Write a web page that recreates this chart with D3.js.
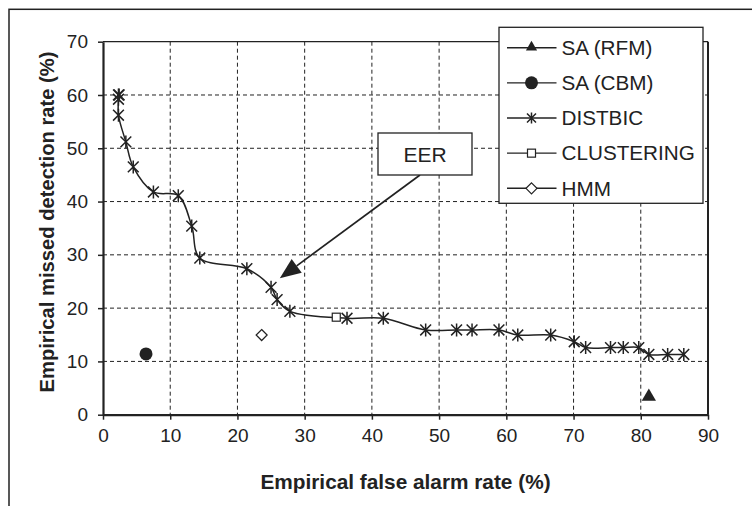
<!DOCTYPE html>
<html lang="en">

<head>
    <meta charset="UTF-8">
    <script src="https://d3js.org/d3.v7.min.js" charset="utf-8"></script>
    <title>DET curve</title>
    <style>
        body { margin: 0; background: #fff; }
        text { font-family: "Liberation Sans", Arial, sans-serif; fill: #222; }
    </style>
</head>

<body>
    <div id="chart"></div>

    <script>
        // DISTBIC curve (false alarm %, missed detection %)
        const distbicFalseAlarm = [2.4, 2.3, 2.3, 2.3, 3.4, 4.5, 7.5, 11.2, 13.2, 14.4, 21.4, 25.0, 25.9, 27.8, 36.3, 41.7, 48.0, 52.6, 54.9, 58.9, 61.7, 66.6, 70.1, 71.8, 75.5, 77.4, 79.7, 81.2, 84.0, 86.4];
        const distbicMissed = [60.0, 60.0, 59.2, 56.2, 51.2, 46.5, 41.8, 41.1, 35.4, 29.4, 27.4, 23.9, 21.6, 19.4, 18.1, 18.1, 15.9, 15.9, 15.9, 15.9, 14.95, 14.95, 13.7, 12.6, 12.6, 12.6, 12.6, 11.3, 11.3, 11.3];
        // single-point systems
        const saRfm = [81.2, 3.3];
        const saCbm = [6.4, 11.4];
        const clustering = [34.7, 18.3];
        const hmm = [23.6, 14.95];
        const legendNames = ["SA (RFM)", "SA (CBM)", "DISTBIC", "CLUSTERING", "HMM"];
        const xTicks = [0, 10, 20, 30, 40, 50, 60, 70, 80, 90];
        const yTicks = [0, 10, 20, 30, 40, 50, 60, 70];
        const eerTip = [26.3, 25.6];

        const width = 752, height = 506;
        const ink = "#222";
        const plotLeft = 103, plotRight = 708, plotTop = 41.7, plotBottom = 414.7;

        const x = d3.scaleLinear().domain([0, 90]).range([plotLeft, plotRight]);
        const y = d3.scaleLinear().domain([0, 70]).range([plotBottom, plotTop]);

        const svg = d3.select("#chart").append("svg")
            .attr("width", width)
            .attr("height", height);

        // outer frame (cut by the picture edges)
        svg.append("rect")
            .attr("x", 9).attr("y", 9.3)
            .attr("width", 780).attr("height", 540)
            .attr("fill", "none").attr("stroke", ink).attr("stroke-width", 1.5);

        // grid
        const grid = svg.append("g").attr("stroke", ink).attr("stroke-width", 1).attr("stroke-dasharray", "4,3");
        grid.selectAll("line.v").data(xTicks.filter(d => d > 0 && d < 90)).enter().append("line")
            .attr("x1", d => x(d)).attr("x2", d => x(d))
            .attr("y1", plotTop).attr("y2", plotBottom);
        grid.selectAll("line.h").data(yTicks.filter(d => d > 0 && d < 70)).enter().append("line")
            .attr("y1", d => y(d)).attr("y2", d => y(d))
            .attr("x1", plotLeft).attr("x2", plotRight);

        // plot border
        svg.append("line").attr("x1", plotLeft).attr("x2", plotRight).attr("y1", plotTop).attr("y2", plotTop)
            .attr("stroke", ink).attr("stroke-width", 1.3);
        svg.append("line").attr("x1", plotRight).attr("x2", plotRight).attr("y1", plotTop).attr("y2", plotBottom)
            .attr("stroke", ink).attr("stroke-width", 2);

        // axes
        const xAxis = svg.append("g").attr("transform", "translate(0," + plotBottom + ")")
            .call(d3.axisBottom(x).tickValues(xTicks).tickSize(5).tickSizeOuter(0));
        const yAxis = svg.append("g").attr("transform", "translate(" + plotLeft + ",0)")
            .call(d3.axisLeft(y).tickValues(yTicks).tickSize(5).tickSizeOuter(0));
        [xAxis, yAxis].forEach(a => {
            a.select(".domain").attr("stroke", ink).attr("stroke-width", 2.2);
            a.selectAll(".tick line").attr("stroke", ink).attr("stroke-width", 1.5);
            a.selectAll(".tick text").style("font-size", "19px").attr("fill", ink)
                .style("font-family", "'Liberation Sans', Arial, sans-serif");
        });
        xAxis.selectAll(".tick text").attr("y", 14);
        yAxis.selectAll(".tick text").attr("x", -15);

        // axis titles
        svg.append("text")
            .attr("x", (plotLeft + plotRight) / 2).attr("y", 488.5)
            .attr("text-anchor", "middle")
            .style("font-size", "20.8px").style("font-weight", "bold")
            .text("Empirical false alarm rate (%)");
        svg.append("text")
            .attr("transform", "translate(54,222) rotate(-90)")
            .attr("text-anchor", "middle")
            .style("font-size", "20.2px").style("font-weight", "bold")
            .text("Empirical missed detection rate (%)");

        // markers
        const star = (g, cx, cy, r) => g.append("path")
            .attr("d", "M" + (cx - r) + "," + (cy - r) + "L" + (cx + r) + "," + (cy + r) +
                "M" + (cx - r) + "," + (cy + r) + "L" + (cx + r) + "," + (cy - r) +
                "M" + cx + "," + (cy - r * 1.2) + "L" + cx + "," + (cy + r * 1.2))
            .attr("stroke", ink).attr("stroke-width", 1.5).attr("fill", "none");
        const marker = {
            "SA (RFM)": (g, cx, cy, s) => g.append("path")
                .attr("d", d3.symbol(d3.symbolTriangle, s * s * 0.45)())
                .attr("transform", "translate(" + cx + "," + (cy - 0.5) + ")")
                .attr("fill", ink),
            "SA (CBM)": (g, cx, cy, s) => g.append("circle")
                .attr("cx", cx).attr("cy", cy).attr("r", s * 0.52).attr("fill", ink),
            "DISTBIC": (g, cx, cy, s) => star(g, cx, cy, s * 0.45),
            "CLUSTERING": (g, cx, cy, s) => g.append("rect")
                .attr("x", cx - 4).attr("y", cy - 4).attr("width", 8).attr("height", 8)
                .attr("fill", "#fff").attr("stroke", ink).attr("stroke-width", 1.2),
            "HMM": (g, cx, cy, s) => g.append("path")
                .attr("d", "M" + cx + "," + (cy - 5.5) + "L" + (cx + 5.5) + "," + cy + "L" + cx + "," + (cy + 5.5) + "L" + (cx - 5.5) + "," + cy + "Z")
                .attr("fill", "#fff").attr("stroke", ink).attr("stroke-width", 1.2)
        };

        // DISTBIC smoothed line
        const distbic = distbicFalseAlarm.map((d, i) => [d, distbicMissed[i]]);
        const line = d3.line()
            .x(d => x(d[0])).y(d => y(d[1]))
            .curve(d3.curveCatmullRom.alpha(0.5));
        svg.append("path").datum(distbic)
            .attr("d", line)
            .attr("fill", "none").attr("stroke", ink).attr("stroke-width", 1.5);

        const marks = svg.append("g");
        distbic.forEach(d => marker["DISTBIC"](marks, x(d[0]), y(d[1]), 12));
        marker["SA (RFM)"](marks, x(saRfm[0]), y(saRfm[1]), 14);
        marker["SA (CBM)"](marks, x(saCbm[0]), y(saCbm[1]), 12.5);
        marker["CLUSTERING"](marks, x(clustering[0]), y(clustering[1]), 9);
        marker["HMM"](marks, x(hmm[0]), y(hmm[1]), 11);

        // EER callout
        const tipX = x(eerTip[0]), tipY = y(eerTip[1]);
        const fromX = 420, fromY = 175;
        const ang = Math.atan2(tipY - fromY, tipX - fromX);
        const headLen = 21, headHalf = 8.5;
        const baseX = tipX - headLen * Math.cos(ang), baseY = tipY - headLen * Math.sin(ang);
        svg.append("line")
            .attr("x1", fromX).attr("y1", fromY).attr("x2", baseX).attr("y2", baseY)
            .attr("stroke", ink).attr("stroke-width", 1.7);
        svg.append("path")
            .attr("d", "M" + tipX + "," + tipY +
                "L" + (baseX + headHalf * Math.sin(ang)) + "," + (baseY - headHalf * Math.cos(ang)) +
                "L" + (baseX - headHalf * Math.sin(ang)) + "," + (baseY + headHalf * Math.cos(ang)) + "Z")
            .attr("fill", ink);
        svg.append("rect")
            .attr("x", 378).attr("y", 133).attr("width", 94).attr("height", 42)
            .attr("fill", "#fff").attr("stroke", ink).attr("stroke-width", 1.3);
        svg.append("text")
            .attr("x", 425).attr("y", 161.5).attr("text-anchor", "middle")
            .style("font-size", "21px").text("EER");

        // legend
        const legend = svg.append("g");
        legend.append("rect")
            .attr("x", 499).attr("y", 27.3).attr("width", 204).attr("height", 176)
            .attr("fill", "#fff").attr("stroke", ink).attr("stroke-width", 1.3);
        const legendY = d3.scalePoint().domain(legendNames).range([47.7, 188.3]);
        const legendSize = { "SA (RFM)": 11, "SA (CBM)": 12.5, "DISTBIC": 10, "CLUSTERING": 8, "HMM": 11 };
        legendNames.forEach(name => {
            const ly = legendY(name);
            legend.append("line")
                .attr("x1", 507).attr("x2", 556.5).attr("y1", ly).attr("y2", ly)
                .attr("stroke", ink).attr("stroke-width", 1.4);
            marker[name](legend, 531.5, ly, legendSize[name]);
            legend.append("text")
                .attr("x", 561.5).attr("y", ly + 7.3)
                .style("font-size", "20.7px").text(name);
        });
    </script>
</body>

</html>
